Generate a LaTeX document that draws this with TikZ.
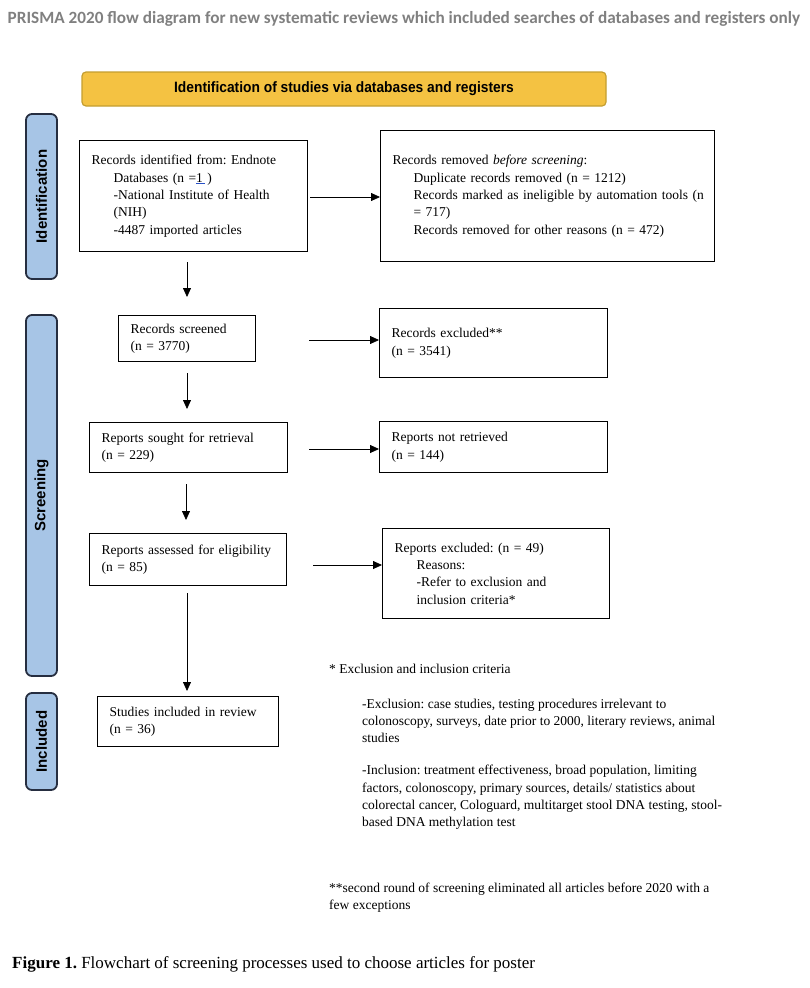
\documentclass[tikz,border=0pt]{standalone}
\usepackage{fontspec}
\setmainfont{Liberation Serif}
\newfontfamily\arialf{Liberation Sans}
\newfontfamily\calibf{Carlito}
\usetikzlibrary{arrows.meta,calc}
\definecolor{titlegray}{RGB}{128,128,128}
\definecolor{headfill}{RGB}{244,194,66}
\definecolor{headline}{RGB}{196,158,48}
\definecolor{sidefill}{RGB}{167,197,230}
\definecolor{sideline}{RGB}{38,46,64}
\definecolor{linkblue}{RGB}{40,80,200}
\newcommand\bodyfont{\fontsize{13.5}{17.3}\selectfont\frenchspacing}
\begin{document}
\begin{tikzpicture}[x=1pt,y=-1pt,
  box/.style={draw, line width=1.2pt, anchor=north west, align=left, inner xsep=12pt, inner ysep=0pt, font=\bodyfont},
  side/.style={draw=sideline, line width=1.8pt, fill=sidefill, rounded corners=6pt, rotate=90, minimum height=31pt, inner sep=0pt, font=\arialf\bfseries\fontsize{15}{17}\selectfont},
  arr/.style={line width=0.8pt, -{Triangle[length=9pt,width=8pt]}},
  plain/.style={anchor=base west, inner sep=0pt, font=\bodyfont}]
\useasboundingbox (0,0) rectangle (810,988);

% title
\node[anchor=base, inner sep=0pt, text=titlegray, font=\calibf\bfseries\fontsize{17.2}{20}\selectfont] (title) at (404,23) {PRISMA 2020 flow diagram for new systematic reviews which included searches of databases and registers only};

% header
\node[draw=headline, line width=1.2pt, fill=headfill, rounded corners=4pt, minimum width=524pt, minimum height=34pt, inner sep=0pt, font=\arialf\bfseries\fontsize{15}{17}\selectfont] (head) at (344,89) {\scalebox{0.92}[1]{Identification of studies via databases and registers}};

% side bars
\node[side, minimum width=165pt] (sid) at (41.5,196.5) {Identification};
\node[side, minimum width=361pt] (sscr) at (41.5,495.5) {Screening};
\node[side, minimum width=97pt] (sinc) at (41.5,741.5) {Included};

% boxes
\node[box, text width=204pt, minimum height=111pt] (b1) at (79,140) {Records identified from: Endnote\\
\hspace*{22pt}Databases (n =\textcolor{linkblue}{\underline{\textcolor{black}{1\,}}}\,)\\
\hspace*{22pt}-National Institute of Health\\
\hspace*{22pt}(NIH)\\
\hspace*{22pt}-4487 imported articles};

\node[box, text width=310pt, minimum height=131pt] (rem) at (380,130) {Records removed \textit{before screening}:\\
\hspace*{21pt}Duplicate records removed (n = 1212)\\
\hspace*{21pt}\makebox[289pt][l]{Records marked as ineligible by automation tools (n}\\
\hspace*{21pt}= 717)\\
\hspace*{21pt}Records removed for other reasons (n = 472)};

\node[box, text width=113pt, minimum height=46pt] (scr) at (118,315) {Records screened\\(n = 3770)};
\node[box, text width=204pt, minimum height=69pt] (exc) at (379,308) {Records excluded**\\(n = 3541)};
\node[box, text width=174pt, minimum height=50pt] (sought) at (89,422) {Reports sought for retrieval\\(n = 229)};
\node[box, text width=204pt, minimum height=51pt] (nr) at (379,421) {Reports not retrieved\\(n = 144)};
\node[box, text width=173pt, minimum height=52pt] (ass) at (89,533) {Reports assessed for eligibility\\(n = 85)};
\node[box, text width=203pt, minimum height=90pt] (rex) at (382,528) {Reports excluded: (n = 49)\\
\hspace*{22pt}Reasons:\\
\hspace*{22pt}-Refer to exclusion and\\
\hspace*{22pt}inclusion criteria*};
\node[box, text width=157pt, minimum height=50pt] (inc) at (97,696) {Studies included in review\\(n = 36)};

% vertical arrows
\coordinate (v1) at (187,262);
\draw[arr] (v1) -- ($(v1 |- scr.north)+(0,-18)$);
\coordinate (v2) at (187,373);
\draw[arr] (v2) -- ($(v2 |- sought.north)+(0,-13)$);
\coordinate (v3) at (186,484);
\draw[arr] (v3) -- ($(v3 |- ass.north)+(0,-13)$);
\coordinate (v4) at (187,593);
\draw[arr] (v4) -- ($(v4 |- inc.north)+(0,-5)$);

% horizontal arrows
\coordinate (h1) at (310,197);
\draw[arr] (h1) -- (h1 -| rem.west);
\coordinate (h2) at (309,340);
\draw[arr] (h2) -- (h2 -| exc.west);
\coordinate (h3) at (309,449);
\draw[arr] (h3) -- (h3 -| nr.west);
\coordinate (h4) at (313,565);
\draw[arr] (h4) -- (h4 -| rex.west);

% footnotes
\node[plain] (fn1) at (329,673) {* Exclusion and inclusion criteria};
\node[plain] (fn2) at (362,708) {\parbox[t]{420pt}{\bodyfont
-Exclusion: case studies, testing procedures irrelevant to\\
colonoscopy, surveys, date prior to 2000, literary reviews, animal\\
studies\\[15pt]
-Inclusion: treatment effectiveness, broad population, limiting\\
factors, colonoscopy, primary sources, details/ statistics about\\
colorectal cancer, Cologuard, multitarget stool DNA testing, stool-\\
based DNA methylation test}};
\node[plain] (fn3) at (329,892) {\parbox[t]{440pt}{\bodyfont
**second round of screening eliminated all articles before 2020 with a\\
few exceptions}};

% caption
\node[plain, font=\fontsize{17}{20}\selectfont\frenchspacing] (cap) at (12,968) {\textbf{Figure 1.} Flowchart of screening processes used to choose articles for poster};
\end{tikzpicture}
\end{document}
